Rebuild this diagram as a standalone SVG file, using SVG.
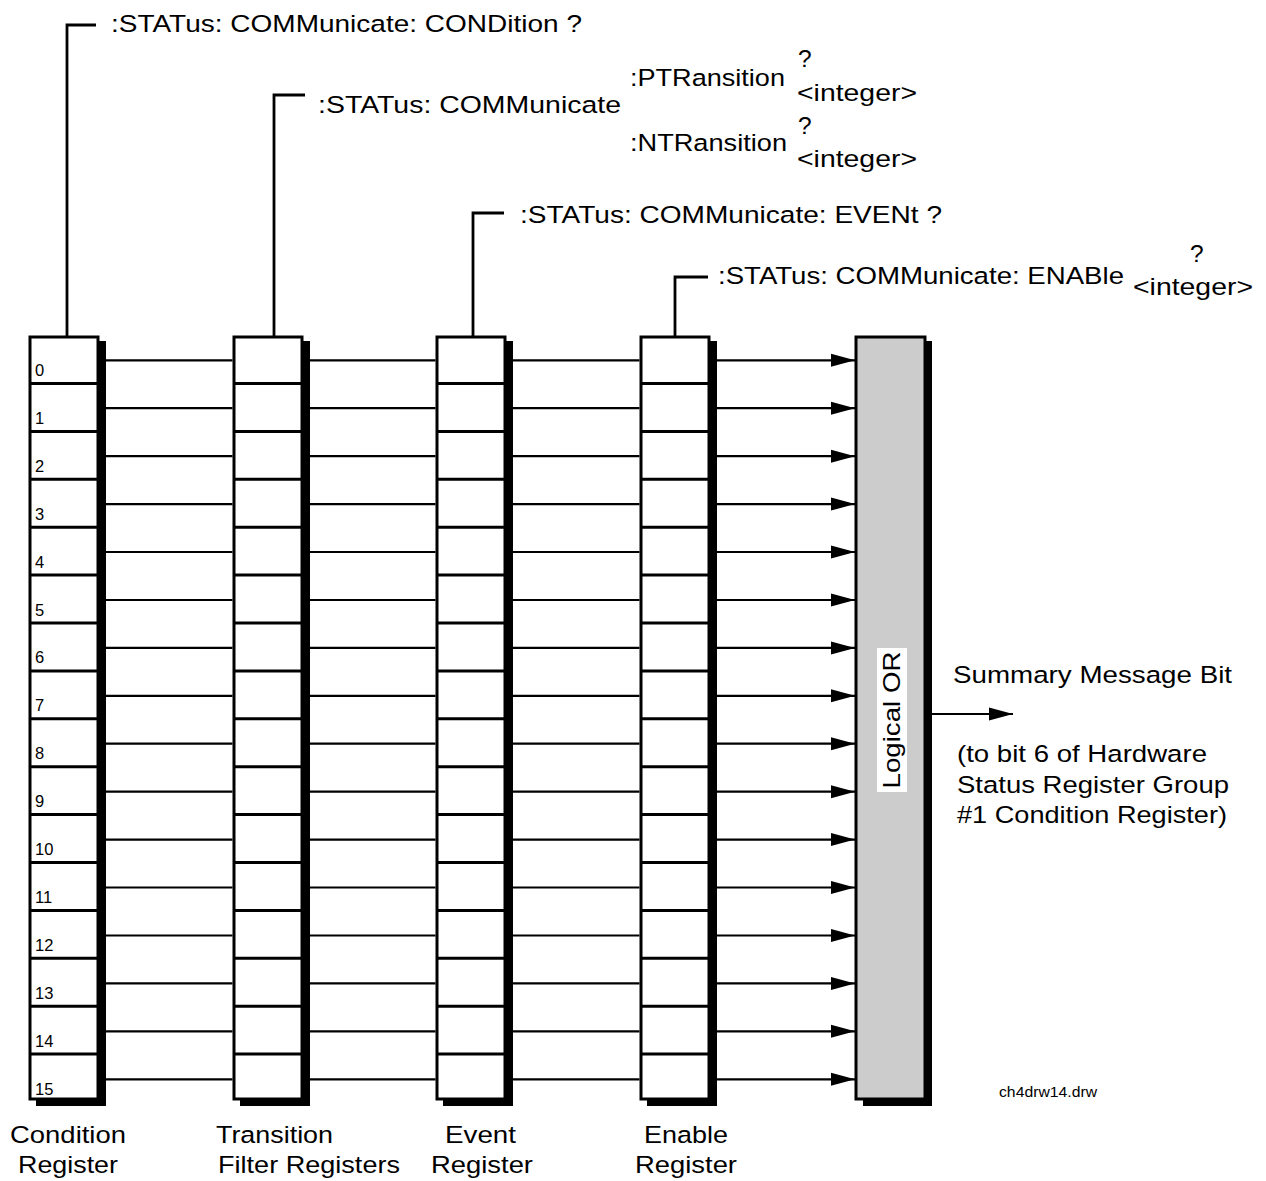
<svg xmlns="http://www.w3.org/2000/svg" xmlns:xlink="http://www.w3.org/1999/xlink" width="1266" height="1181" viewBox="0 0 1266 1181">
<style>
 .t{font-family:"Liberation Sans",Arial,Helvetica,sans-serif;font-size:24.5px;fill:#000}
 .n{font-family:"Liberation Sans",Arial,Helvetica,sans-serif;font-size:16.5px;fill:#000}
 .s{font-family:"Liberation Sans",Arial,Helvetica,sans-serif;font-size:14px;fill:#000}
 .box{fill:#fff;stroke:#000;stroke-width:3}
 .or{fill:#cccccc;stroke:#000;stroke-width:3}
 .sh{fill:#000}
 .div{stroke:#000;stroke-width:3;fill:none}
 .ln{stroke:#000;stroke-width:2.2;fill:none}
 .ld{stroke:#000;stroke-width:2.8;fill:none}
</style>
<defs>
 <marker id="ah" markerUnits="userSpaceOnUse" markerWidth="24" markerHeight="14" refX="24" refY="7" orient="auto">
  <path d="M0,0.5 L24,7 L0,13.5 z" fill="#000"/>
 </marker>
 <g id="reg">
  <rect class="sh" x="6" y="341" width="70" height="765"/>
  <rect class="box" x="0" y="337" width="68" height="762"/>
  <path class="div" d="M0,383.5H68M0,431.4H68M0,479.3H68M0,527.2H68M0,575.1H68M0,623H68M0,670.9H68M0,718.8H68M0,766.7H68M0,814.6H68M0,862.5H68M0,910.4H68M0,958.3H68M0,1006.2H68M0,1054.1H68"/>
 </g>
</defs>

<g id="condition-register">
 <use xlink:href="#reg" x="30" y="0"/>
 <g class="n">
  <text x="35" y="376">0</text>
  <text x="35" y="423.9">1</text>
  <text x="35" y="471.8">2</text>
  <text x="35" y="519.7">3</text>
  <text x="35" y="567.6">4</text>
  <text x="35" y="615.5">5</text>
  <text x="35" y="663.4">6</text>
  <text x="35" y="711.3">7</text>
  <text x="35" y="759.2">8</text>
  <text x="35" y="807.1">9</text>
  <text x="35" y="855">10</text>
  <text x="35" y="902.9">11</text>
  <text x="35" y="950.8">12</text>
  <text x="35" y="998.7">13</text>
  <text x="35" y="1046.6">14</text>
  <text x="35" y="1094.5">15</text>
 </g>
 <text class="t" x="10" y="1143" textLength="116" lengthAdjust="spacingAndGlyphs">Condition</text>
 <text class="t" x="18" y="1173" textLength="100" lengthAdjust="spacingAndGlyphs">Register</text>
</g>

<g id="transition-filter-registers">
 <use xlink:href="#reg" x="234" y="0"/>
 <text class="t" x="216" y="1143" textLength="117" lengthAdjust="spacingAndGlyphs">Transition</text>
 <text class="t" x="218" y="1173" textLength="182" lengthAdjust="spacingAndGlyphs">Filter Registers</text>
</g>

<g id="event-register">
 <use xlink:href="#reg" x="437" y="0"/>
 <text class="t" x="445" y="1143" textLength="71" lengthAdjust="spacingAndGlyphs">Event</text>
 <text class="t" x="431" y="1173" textLength="102" lengthAdjust="spacingAndGlyphs">Register</text>
</g>

<g id="enable-register">
 <use xlink:href="#reg" x="641" y="0"/>
 <text class="t" x="644" y="1143" textLength="84" lengthAdjust="spacingAndGlyphs">Enable</text>
 <text class="t" x="635" y="1173" textLength="102" lengthAdjust="spacingAndGlyphs">Register</text>
</g>

<g id="logical-or">
 <rect class="sh" x="863" y="341" width="69" height="765"/>
 <rect class="or" x="856" y="337" width="69" height="762"/>
 <rect x="877" y="648" width="30" height="144" fill="#fff"/>
 <text class="t" transform="translate(900,720) rotate(-90)" text-anchor="middle" textLength="137" lengthAdjust="spacingAndGlyphs">Logical OR</text>
</g>

<g id="cmd-condition">
 <text class="t" x="111" y="32" textLength="471" lengthAdjust="spacingAndGlyphs">:STATus: COMMunicate: CONDition ?</text>
</g>
<g id="cmd-transition">
 <text class="t" x="318" y="113" textLength="303" lengthAdjust="spacingAndGlyphs">:STATus: COMMunicate</text>
 <text class="t" x="630" y="86" textLength="155" lengthAdjust="spacingAndGlyphs">:PTRansition</text>
 <text class="t" x="798" y="67">?</text>
 <text class="t" x="797" y="101" textLength="120" lengthAdjust="spacingAndGlyphs">&lt;integer&gt;</text>
 <text class="t" x="630" y="151" textLength="157" lengthAdjust="spacingAndGlyphs">:NTRansition</text>
 <text class="t" x="798" y="134">?</text>
 <text class="t" x="797" y="167" textLength="120" lengthAdjust="spacingAndGlyphs">&lt;integer&gt;</text>
</g>
<g id="cmd-event">
 <text class="t" x="520" y="223" textLength="422" lengthAdjust="spacingAndGlyphs">:STATus: COMMunicate: EVENt ?</text>
</g>
<g id="cmd-enable">
 <text class="t" x="718" y="284" textLength="406" lengthAdjust="spacingAndGlyphs">:STATus: COMMunicate: ENABle</text>
 <text class="t" x="1190" y="262">?</text>
 <text class="t" x="1133" y="295" textLength="120" lengthAdjust="spacingAndGlyphs">&lt;integer&gt;</text>
</g>

<g id="summary">
 <text class="t" x="953" y="683" textLength="279" lengthAdjust="spacingAndGlyphs">Summary Message Bit</text>
 <text class="t" x="957" y="762" textLength="250" lengthAdjust="spacingAndGlyphs">(to bit 6 of Hardware</text>
 <text class="t" x="957" y="793" textLength="272" lengthAdjust="spacingAndGlyphs">Status Register Group</text>
 <text class="t" x="957" y="823" textLength="270" lengthAdjust="spacingAndGlyphs">#1 Condition Register)</text>
 <text class="s" x="999" y="1097" textLength="98" lengthAdjust="spacingAndGlyphs">ch4drw14.drw</text>
</g>

<g id="connectors">
 <path class="ld" d="M67,337V25H96M274,337V95H305M473,337V213H504M675,337V277H708"/>
 <path class="ln" d="M106,360.3H232.5M106,408.2H232.5M106,456.2H232.5M106,504.1H232.5M106,552H232.5M106,600H232.5M106,647.9H232.5M106,695.8H232.5M106,743.7H232.5M106,791.7H232.5M106,839.6H232.5M106,887.5H232.5M106,935.5H232.5M106,983.4H232.5M106,1031.3H232.5M106,1079.3H232.5"/>
 <path class="ln" d="M310,360.3H435.5M310,408.2H435.5M310,456.2H435.5M310,504.1H435.5M310,552H435.5M310,600H435.5M310,647.9H435.5M310,695.8H435.5M310,743.7H435.5M310,791.7H435.5M310,839.6H435.5M310,887.5H435.5M310,935.5H435.5M310,983.4H435.5M310,1031.3H435.5M310,1079.3H435.5"/>
 <path class="ln" d="M513,360.3H639.5M513,408.2H639.5M513,456.2H639.5M513,504.1H639.5M513,552H639.5M513,600H639.5M513,647.9H639.5M513,695.8H639.5M513,743.7H639.5M513,791.7H639.5M513,839.6H639.5M513,887.5H639.5M513,935.5H639.5M513,983.4H639.5M513,1031.3H639.5M513,1079.3H639.5"/>
 <g class="ln" marker-end="url(#ah)">
  <line x1="717" y1="360.3" x2="855" y2="360.3"/>
  <line x1="717" y1="408.2" x2="855" y2="408.2"/>
  <line x1="717" y1="456.2" x2="855" y2="456.2"/>
  <line x1="717" y1="504.1" x2="855" y2="504.1"/>
  <line x1="717" y1="552" x2="855" y2="552"/>
  <line x1="717" y1="600" x2="855" y2="600"/>
  <line x1="717" y1="647.9" x2="855" y2="647.9"/>
  <line x1="717" y1="695.8" x2="855" y2="695.8"/>
  <line x1="717" y1="743.7" x2="855" y2="743.7"/>
  <line x1="717" y1="791.7" x2="855" y2="791.7"/>
  <line x1="717" y1="839.6" x2="855" y2="839.6"/>
  <line x1="717" y1="887.5" x2="855" y2="887.5"/>
  <line x1="717" y1="935.5" x2="855" y2="935.5"/>
  <line x1="717" y1="983.4" x2="855" y2="983.4"/>
  <line x1="717" y1="1031.3" x2="855" y2="1031.3"/>
  <line x1="717" y1="1079.3" x2="855" y2="1079.3"/>
  <line x1="932" y1="714" x2="1013" y2="714"/>
 </g>
</g>
</svg>
